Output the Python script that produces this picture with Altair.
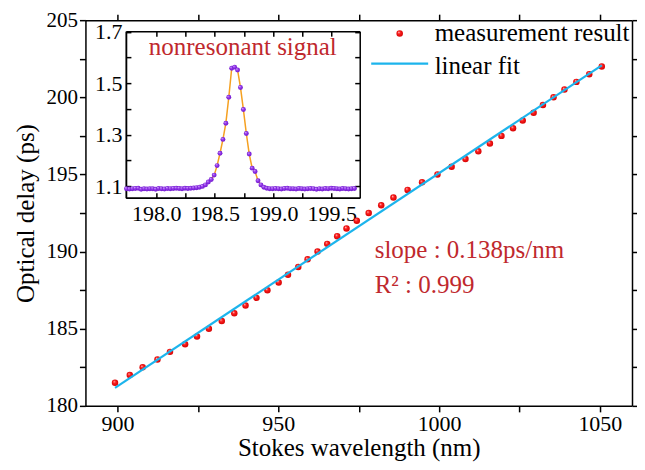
import altair as alt
import pandas as pd

# ---------------- data ----------------
wavelength = [899.2, 903.8, 907.8, 912.4, 916.3, 921.0, 924.7, 928.4, 932.4, 936.3,
              939.8, 943.2, 946.6, 950.1, 953.0, 956.2, 959.1, 962.2, 965.2, 968.3,
              971.2, 974.4, 978.1, 982.0, 985.8, 990.2, 994.7, 999.5, 1003.9, 1008.2,
              1012.2, 1015.8, 1019.4, 1023.0, 1026.0, 1029.4, 1032.3, 1035.6, 1039.0, 1042.7,
              1046.7, 1050.6]
delay = [181.5, 182.0, 182.5, 183.0, 183.5, 184.0, 184.5, 185.0, 185.5, 186.0,
         186.5, 187.0, 187.5, 188.0, 188.5, 189.0, 189.5, 190.0, 190.5, 191.0,
         191.5, 192.0, 192.5, 193.0, 193.5, 194.0, 194.5, 195.0, 195.5, 196.0,
         196.5, 197.0, 197.5, 198.0, 198.5, 199.0, 199.5, 200.0, 200.5, 201.0,
         201.5, 202.0]
fit_wavelength = [899.2, 1050.6]
fit_delay = [181.17, 202.07]

inset_x = [197.745, 197.770, 197.795, 197.820, 197.845, 197.870, 197.895, 197.920, 197.945, 197.970,
           197.995, 198.020, 198.045, 198.070, 198.095, 198.120, 198.145, 198.170, 198.195, 198.220,
           198.245, 198.270, 198.295, 198.320, 198.345, 198.370, 198.395, 198.420, 198.445, 198.470,
           198.495, 198.520, 198.545, 198.570, 198.595, 198.620, 198.645, 198.670, 198.695, 198.720,
           198.745, 198.770, 198.795, 198.820, 198.845, 198.870, 198.895, 198.920, 198.945, 198.970,
           198.995, 199.020, 199.045, 199.070, 199.095, 199.120, 199.145, 199.170, 199.195, 199.220,
           199.245, 199.270, 199.295, 199.320, 199.345, 199.370, 199.395, 199.420, 199.445, 199.470,
           199.495, 199.520, 199.545, 199.570, 199.595, 199.620, 199.645, 199.670, 199.695]
inset_y = [1.090, 1.089, 1.090, 1.091, 1.092, 1.088, 1.090, 1.089, 1.090, 1.090,
           1.088, 1.091, 1.090, 1.089, 1.091, 1.090, 1.091, 1.092, 1.091, 1.090,
           1.092, 1.091, 1.092, 1.093, 1.094, 1.096, 1.099, 1.105, 1.116, 1.126,
           1.143, 1.180, 1.228, 1.282, 1.345, 1.446, 1.559, 1.563, 1.552, 1.484,
           1.398, 1.305, 1.225, 1.170, 1.157, 1.121, 1.105, 1.096, 1.092, 1.090,
           1.090, 1.091, 1.090, 1.089, 1.091, 1.092, 1.090, 1.090, 1.089, 1.091,
           1.090, 1.089, 1.090, 1.091, 1.090, 1.088, 1.090, 1.089, 1.091, 1.090,
           1.092, 1.091, 1.090, 1.089, 1.091, 1.090, 1.089, 1.090, 1.091]

x_ticks = [900, 925, 950, 975, 1000, 1025, 1050]
y_ticks = [180, 182.5, 185, 187.5, 190, 192.5, 195, 197.5, 200, 202.5, 205]
inset_x_ticks = [198.0, 198.25, 198.5, 198.75, 199.0, 199.25, 199.5]
inset_y_ticks = [1.1, 1.2, 1.3, 1.4, 1.5, 1.6, 1.7]
legend_labels = ["measurement result", "linear fit"]
notes = ["slope : 0.138ps/nm", "R\u00b2 : 0.999", "nonresonant signal"]

# ---------------- layout (page pixel positions -> plot-area pixels) ----------------
TOP = 12
LEFT = 77.5
W, H = 547, 406 - 8 - TOP
FONT = "Liberation Serif"
NOTE_RED = "#C0282D"


def py(page_y):
    return page_y - 8 - TOP


def px(page_x):
    return page_x - 8 - LEFT


IL, IR, IT, IB = px(126), px(360), py(31), py(197.7)   # inset box inside the plot area

main_df = pd.DataFrame({"wl": wavelength, "delay": delay})
fit_df = pd.DataFrame({"wl": fit_wavelength, "delay": fit_delay})
inset_df = pd.DataFrame({"x": inset_x, "y": inset_y})

xs_main = alt.Scale(domain=[890, 1060], nice=False, zero=False)
ys_main = alt.Scale(domain=[180, 205], nice=False, zero=False)
xs_in = alt.Scale(domain=[197.74, 199.74], range=[IL, IR], nice=False, zero=False)
ys_in = alt.Scale(domain=[1.055, 1.703], range=[IB, IT], nice=False, zero=False)

ax = dict(labelFont=FONT, titleFont=FONT, labelColor="black", titleColor="black",
          domainColor="black", tickColor="black", grid=False, domainWidth=1.5,
          tickWidth=1.5, titleFontWeight="normal")

red_grad = {"gradient": "radial", "x1": 0.35, "y1": 0.3, "r1": 0, "x2": 0.5, "y2": 0.5, "r2": 0.55,
            "stops": [{"offset": 0, "color": "#ffe4e4"}, {"offset": 0.35, "color": "#ff2020"},
                      {"offset": 1, "color": "#d00000"}]}
purple_grad = {"gradient": "radial", "x1": 0.35, "y1": 0.3, "r1": 0, "x2": 0.5, "y2": 0.5, "r2": 0.55,
               "stops": [{"offset": 0, "color": "#eedcff"}, {"offset": 0.35, "color": "#9a3cf0"},
                         {"offset": 1, "color": "#6a14c8"}]}

# main measurement points: bottom + left labelled axes
main_points = alt.Chart(main_df).mark_circle(fill=red_grad, size=42, opacity=1).encode(
    x=alt.X("wl:Q", scale=xs_main,
            axis=alt.Axis(orient="bottom", values=x_ticks, format="d",
                          labelExpr="datum.value % 50 == 0 ? datum.label : ''",
                          title="Stokes wavelength (nm)", titleFontSize=25, labelFontSize=22,
                          tickSize=6, labelPadding=2, titlePadding=1, **ax)),
    y=alt.Y("delay:Q", scale=ys_main,
            axis=alt.Axis(orient="left", values=y_ticks, format="d",
                          labelExpr="datum.value % 5 == 0 ? datum.label : ''",
                          title="Optical delay (ps)", titleFontSize=25, labelFontSize=21,
                          tickSize=6, labelPadding=2, titlePadding=7, **ax)),
)

# linear fit: mirrored top + right axes
fit_line = alt.Chart(fit_df).mark_line(color="#1CB4EC", strokeWidth=2.2).encode(
    x=alt.X("wl:Q", scale=xs_main,
            axis=alt.Axis(orient="top", values=x_ticks, labels=False, title=None, tickSize=6, **ax)),
    y=alt.Y("delay:Q", scale=ys_main,
            axis=alt.Axis(orient="right", values=y_ticks, labels=False, title=None, tickSize=6, **ax)),
)

# inset line with labelled axes
inset_line = alt.Chart(inset_df).mark_line(color="#F5A020", strokeWidth=1.5).encode(
    x=alt.X("x:Q", scale=xs_in,
            axis=alt.Axis(orient="bottom", offset=-(H - IB), values=inset_x_ticks, format=".1f",
                          labelExpr="indexof(['198.0','198.5','199.0','199.5'], datum.label) >= 0 ? datum.label : ''",
                          title=None, labelFontSize=22, tickSize=0, labelPadding=6, **ax)),
    y=alt.Y("y:Q", scale=ys_in,
            axis=alt.Axis(orient="left", offset=-IL, values=inset_y_ticks, format=".1f",
                          labelExpr="indexof(['1.1','1.3','1.5','1.7'], datum.label) >= 0 ? datum.label : ''",
                          title=None, labelFontSize=22, tickSize=0, labelPadding=4, **ax)),
)

# inset points, inward ticks on the inset's bottom and left edges
inset_points = alt.Chart(inset_df).mark_circle(fill=purple_grad, size=24, opacity=1).encode(
    x=alt.X("x:Q", scale=xs_in,
            axis=alt.Axis(orient="top", offset=-IB, values=inset_x_ticks, labels=False,
                          title=None, tickSize=5, **ax)),
    y=alt.Y("y:Q", scale=ys_in,
            axis=alt.Axis(orient="right", offset=-(W - IL), values=inset_y_ticks, labels=False,
                          title=None, tickSize=5, **ax)),
)

# invisible copy giving the inset's top and right edges (inward ticks)
inset_frame = alt.Chart(inset_df).mark_circle(opacity=0).encode(
    x=alt.X("x:Q", scale=xs_in,
            axis=alt.Axis(orient="bottom", offset=-(H - IT), values=inset_x_ticks, labels=False,
                          title=None, tickSize=5, **ax)),
    y=alt.Y("y:Q", scale=ys_in,
            axis=alt.Axis(orient="left", offset=-IR, values=inset_y_ticks, labels=False,
                          title=None, tickSize=5, **ax)),
)

# legend (positions in plot-area pixels)
leg_df = pd.DataFrame({"label": legend_labels})
leg_text1 = alt.Chart(leg_df.iloc[[0]]).mark_text(
    align="left", baseline="alphabetic", font=FONT, fontSize=25, color="black"
).encode(x=alt.value(px(435)), y=alt.value(py(40.5)), text="label:N")
leg_text2 = alt.Chart(leg_df.iloc[[1]]).mark_text(
    align="left", baseline="alphabetic", font=FONT, fontSize=25, color="black"
).encode(x=alt.value(px(435)), y=alt.value(py(73.5)), text="label:N")
leg_dot = alt.Chart(leg_df.iloc[[0]]).mark_circle(fill=red_grad, size=42, opacity=1).encode(
    x=alt.value(px(400)), y=alt.value(py(33.3)))
leg_line = alt.Chart(leg_df.iloc[[1]]).mark_rule(color="#1CB4EC", strokeWidth=2.2).encode(
    x=alt.value(px(371.5)), x2=alt.value(px(428.5)), y=alt.value(py(63.5)))

# annotations
note_df = pd.DataFrame({"t": notes})
slope_txt = alt.Chart(note_df.iloc[[0]]).mark_text(
    align="left", baseline="alphabetic", font=FONT, fontSize=25, color=NOTE_RED
).encode(x=alt.value(px(375)), y=alt.value(py(258.3)), text="t:N")
r2_txt = alt.Chart(note_df.iloc[[1]]).mark_text(
    align="left", baseline="alphabetic", font=FONT, fontSize=25, color=NOTE_RED
).encode(x=alt.value(px(375)), y=alt.value(py(293.3)), text="t:N")
inset_title = alt.Chart(note_df.iloc[[2]]).mark_text(
    align="center", baseline="alphabetic", font=FONT, fontSize=25, color=NOTE_RED
).encode(x=alt.value(px(243)), y=alt.value(py(55)), text="t:N")

chart = alt.layer(
    main_points, fit_line, inset_line, inset_points, inset_frame,
    leg_line, leg_dot, leg_text1, leg_text2, slope_txt, r2_txt, inset_title,
).resolve_scale(x="independent", y="independent").resolve_axis(
    x="independent", y="independent"
).properties(
    width=W, height=H,
    autosize=alt.AutoSizeParams(type="none"),
    padding={"left": LEFT, "top": TOP, "right": 5, "bottom": 60},
    background="white",
).configure_view(stroke=None).configure_axis(labelFont=FONT, titleFont=FONT)

chart.save("out.html", embed_options={"renderer": "svg", "actions": False})
